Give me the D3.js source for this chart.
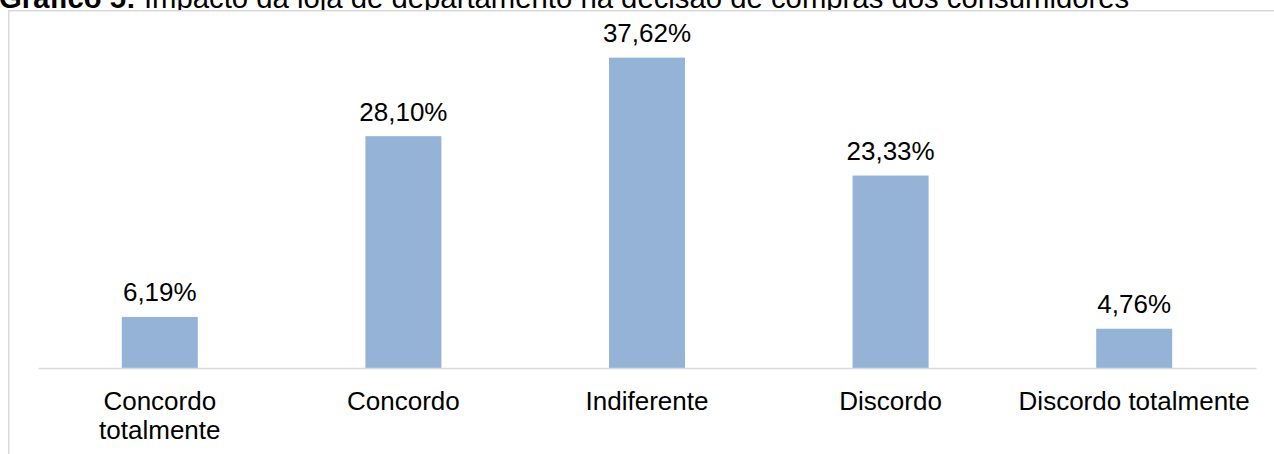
<!DOCTYPE html>
<html>
<head>
<meta charset="utf-8">
<script src="https://cdn.jsdelivr.net/npm/d3@7"></script>
<style>
  html, body { margin: 0; padding: 0; background: #fff; overflow: hidden; }
  svg { display: block; }
  text { font-family: "Liberation Sans", Arial, sans-serif; fill: #000; }
</style>
</head>
<body>
<svg id="chart" width="1274" height="454"></svg>
<script>
const titleBold = "Gráfico 5:";
const titleText = " Impacto da loja de departamento na decisão de compras dos consumidores";
const categories = [["Concordo", "totalmente"], ["Concordo"], ["Indiferente"], ["Discordo"], ["Discordo totalmente"]];
const values = [6.19, 28.10, 37.62, 23.33, 4.76];
const valueLabels = ["6,19%", "28,10%", "37,62%", "23,33%", "4,76%"];

const svg = d3.select("#chart");
const W = 1274, H = 454;

// Title (partly hidden behind chart box, as in the reference crop)
const title = svg.append("text").attr("x", -1).attr("y", 7.5).attr("font-size", 29.3);
title.append("tspan").attr("font-weight", "bold").text(titleBold);
title.append("tspan").text(titleText);

// Chart box
svg.append("rect")
  .attr("x", 8.75).attr("y", 10.75)
  .attr("width", W + 20).attr("height", H + 20)
  .attr("fill", "#fff").attr("stroke", "#d9d9d9").attr("stroke-width", 1.5);

const x = d3.scaleBand()
  .domain(d3.range(values.length))
  .range([38, 1256])
  .paddingInner(0.688)
  .paddingOuter(0.344);

const y = d3.scaleLinear().domain([0, 40]).range([368, 38]);

const g = svg.append("g");

g.selectAll("rect.bar")
  .data(values)
  .join("rect")
  .attr("class", "bar")
  .attr("x", (d, i) => x(i))
  .attr("width", x.bandwidth())
  .attr("y", d => y(d))
  .attr("height", d => y(0) - y(d))
  .attr("fill", "#95b3d7");

// Axis
const axis = d3.axisBottom(x).tickSize(0).tickFormat("");
const ax = svg.append("g").attr("transform", `translate(0,${y(0)})`).call(axis);
ax.select(".domain").attr("stroke", "#d9d9d9").attr("stroke-width", 1.5);

// Category labels
categories.forEach((lines, i) => {
  const t = svg.append("text")
    .attr("text-anchor", "middle")
    .attr("font-size", 26)
    .attr("x", x(i) + x.bandwidth() / 2)
    .attr("y", 410);
  lines.forEach((ln, j) => {
    t.append("tspan").attr("x", x(i) + x.bandwidth() / 2).attr("dy", j === 0 ? 0 : 28.5).text(ln);
  });
});

// Value labels
g.selectAll("text.val")
  .data(values)
  .join("text")
  .attr("class", "val")
  .attr("text-anchor", "middle")
  .attr("font-size", 26)
  .attr("x", (d, i) => x(i) + x.bandwidth() / 2)
  .attr("y", d => y(d) - 15.5)
  .text((d, i) => valueLabels[i]);
</script>
</body>
</html>
